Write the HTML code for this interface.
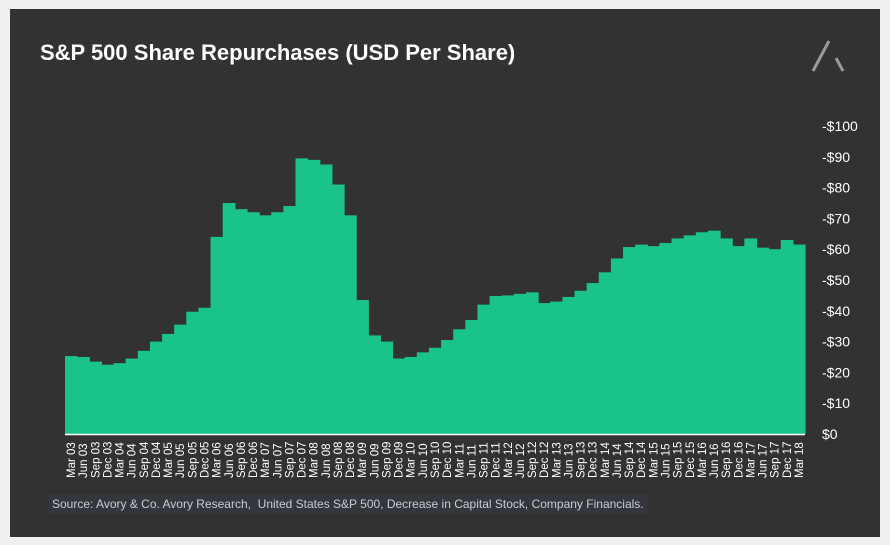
<!DOCTYPE html>
<html><head><meta charset="utf-8"><style>
body{margin:0;background:#f0f0f0;width:890px;height:545px;overflow:hidden;font-family:"Liberation Sans",sans-serif}
#panel{position:absolute;left:10px;top:9px;width:870px;height:528px;background:#323232}
#title{position:absolute;left:40px;top:40px;color:#fff;font-weight:bold;font-size:22px}
#src{position:absolute;left:48px;top:494px;padding:3px 4px;background:#34363b;color:#c8ccd4;font-size:12px}
</style></head><body>
<div id="panel"></div>
<div id="title">S&amp;P 500 Share Repurchases (USD Per Share)</div>
<svg width="890" height="545" style="position:absolute;left:0;top:0">
<g><line x1="813" y1="71" x2="829" y2="41" stroke="#9a9a9a" stroke-width="3"/><line x1="836" y1="58" x2="843" y2="71" stroke="#9a9a9a" stroke-width="3"/></g>
<g id="bars"></g><g id="yt"></g><g id="xt"></g>
<line x1="65" y1="434.5" x2="805" y2="434.5" stroke="#fff" stroke-width="1.5"/>
</svg>
<div id="src">Source: Avory &amp; Co. Avory Research,&nbsp; United States S&amp;P 500, Decrease in Capital Stock, Company Financials.</div>
<script>
const values=[25.3,25,23.5,22.5,23,24.5,27,30,32.5,35.5,39.7,41,64,75,73,72,71,72,74,89.5,89,87.5,81,71,43.5,32,30,24.5,25,26.5,28,30.5,34,37,42,44.8,45,45.5,46,42.5,43,44.5,46.5,49,52.5,57,60.7,61.5,61,62,63.5,64.5,65.5,66,63.5,61,63.5,60.5,60,63,61.5];
const yTicks=[0,10,20,30,40,50,60,70,80,90,100];
const months=["Mar","Jun","Sep","Dec"];
const categories=values.map((v,i)=>months[i%4]+" "+String(3+Math.floor(i/4)).padStart(2,"0"));
const NS="http://www.w3.org/2000/svg";
const x0=65,x1=805,yB=434,yT=126;
const bw=(x1-x0)/values.length;
const X=i=>x0+i*bw, Y=v=>yB-(v/100)*(yB-yT);
const bars=document.getElementById('bars'),yt=document.getElementById('yt'),xt=document.getElementById('xt');
values.forEach((v,i)=>{
 const r=document.createElementNS(NS,'rect');
 r.setAttribute('x',X(i));r.setAttribute('width',bw+0.6);
 r.setAttribute('y',Y(v));r.setAttribute('height',yB-Y(v));r.setAttribute('fill','#19c389');
 
 
 bars.appendChild(r);
 const t=document.createElementNS(NS,'text');
 const cx=X(i)+bw/2+4;
 t.setAttribute('transform','translate('+cx+',478) rotate(-90)');
 t.setAttribute('fill','#fff');t.setAttribute('font-size','11.5');t.textContent=categories[i];
 
 
 xt.appendChild(t);
});
yTicks.forEach(v=>{
 const t=document.createElementNS(NS,'text');
 t.setAttribute('x',822);t.setAttribute('y',Y(v)+5);t.setAttribute('fill','#fff');t.setAttribute('font-size','14');
 t.textContent=v===0?'$0':'-$'+v;
 
 
 yt.appendChild(t);
});
</script>
</body></html>
